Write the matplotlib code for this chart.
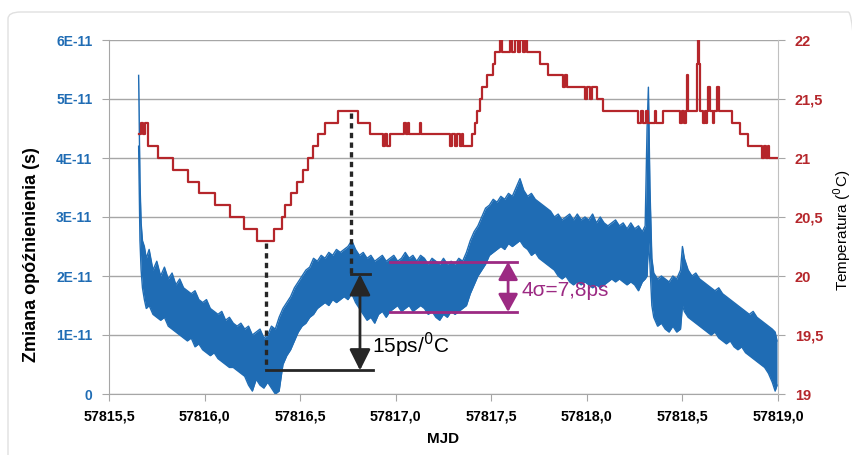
import matplotlib.pyplot as plt
import numpy as np
from matplotlib.patches import FancyBboxPatch

# delay band (upper / lower edge of the noisy trace), units of 1E-11 s
mjd = [57815.655, 57815.662, 57815.668, 57815.675, 57815.685, 57815.695, 57815.71, 57815.73,
       57815.75, 57815.77, 57815.79, 57815.81, 57815.83, 57815.85, 57815.87, 57815.89,
       57815.91, 57815.93, 57815.95, 57815.97, 57815.99, 57816.01, 57816.03, 57816.05,
       57816.07, 57816.09, 57816.11, 57816.13, 57816.15, 57816.17, 57816.19, 57816.21,
       57816.23, 57816.25, 57816.27, 57816.29, 57816.31, 57816.33, 57816.35, 57816.37,
       57816.39, 57816.41, 57816.43, 57816.45, 57816.47, 57816.49, 57816.51, 57816.53,
       57816.55, 57816.57, 57816.59, 57816.61, 57816.63, 57816.65, 57816.67, 57816.69,
       57816.71, 57816.73, 57816.75, 57816.77, 57816.79, 57816.81, 57816.83, 57816.85,
       57816.87, 57816.89, 57816.91, 57816.93, 57816.95, 57816.97, 57816.99, 57817.01,
       57817.03, 57817.05, 57817.07, 57817.09, 57817.11, 57817.13, 57817.15, 57817.17,
       57817.19, 57817.21, 57817.23, 57817.25, 57817.27, 57817.29, 57817.31, 57817.33,
       57817.35, 57817.37, 57817.39, 57817.41, 57817.43, 57817.45, 57817.47, 57817.49,
       57817.51, 57817.53, 57817.55, 57817.57, 57817.59, 57817.61, 57817.63, 57817.65,
       57817.67, 57817.69, 57817.71, 57817.73, 57817.75, 57817.77, 57817.79, 57817.81,
       57817.83, 57817.85, 57817.87, 57817.89, 57817.91, 57817.93, 57817.95, 57817.97,
       57817.99, 57818.01, 57818.03, 57818.05, 57818.07, 57818.09, 57818.11, 57818.13,
       57818.15, 57818.17, 57818.19, 57818.21, 57818.23, 57818.25, 57818.27, 57818.29,
       57818.305, 57818.315, 57818.322, 57818.33, 57818.34, 57818.35, 57818.37, 57818.39,
       57818.41, 57818.43, 57818.45, 57818.47, 57818.49, 57818.50, 57818.51, 57818.53,
       57818.55, 57818.57, 57818.59, 57818.61, 57818.63, 57818.65, 57818.67, 57818.69,
       57818.71, 57818.73, 57818.75, 57818.77, 57818.79, 57818.81, 57818.83, 57818.85,
       57818.87, 57818.89, 57818.91, 57818.93, 57818.95, 57818.97, 57818.985, 57818.995]
delay_hi = [5.4, 3.6, 2.9, 2.6, 2.5, 2.3, 2.45, 2.1,
            2.25, 2.0, 2.15, 1.95, 2.05, 1.85, 1.95, 1.8,
            1.75, 1.7, 1.75, 1.6, 1.55, 1.6, 1.45, 1.4,
            1.35, 1.4, 1.25, 1.3, 1.2, 1.15, 1.2, 1.1,
            1.15, 1.0, 1.05, 1.1, 0.95, 1.0, 1.15, 1.1,
            1.3, 1.45, 1.55, 1.65, 1.8, 1.9, 2.0, 2.1,
            2.15, 2.3, 2.25, 2.35, 2.3, 2.4, 2.35, 2.45,
            2.4, 2.45, 2.5, 2.6, 2.45, 2.35, 2.4, 2.3,
            2.35, 2.25, 2.3, 2.35, 2.25, 2.3, 2.35, 2.25,
            2.3, 2.4, 2.3, 2.35, 2.25, 2.35, 2.3, 2.2,
            2.3, 2.25, 2.2, 2.3, 2.2, 2.25, 2.2, 2.3,
            2.25, 2.4, 2.6, 2.75, 2.85, 3.0, 3.15, 3.2,
            3.3, 3.25, 3.35, 3.3, 3.4, 3.35, 3.5, 3.65,
            3.45, 3.35, 3.4, 3.3, 3.25, 3.2, 3.15, 3.1,
            3.0, 3.05, 2.95, 3.0, 3.05, 2.95, 3.05, 2.95,
            3.0, 2.95, 3.05, 2.9, 3.0, 2.9, 2.85, 2.9,
            2.95, 2.85, 2.9, 2.8, 2.9, 2.8, 2.85, 2.75,
            2.85, 4.5, 5.2, 3.5, 2.3, 2.05, 1.95, 2.0,
            1.95, 1.9, 2.0, 1.95, 2.1, 2.5, 2.3, 2.1,
            2.0, 2.05, 1.95, 1.9, 1.85, 1.8, 1.75, 1.8,
            1.7, 1.65, 1.6, 1.55, 1.5, 1.45, 1.4, 1.35,
            1.4, 1.3, 1.25, 1.2, 1.15, 1.1, 1.05, 0.9]
delay_lo = [4.2, 2.6, 2.1, 1.8, 1.6, 1.45, 1.5, 1.35,
            1.3, 1.25, 1.3, 1.15, 1.1, 1.05, 1.0, 0.95,
            0.9, 0.95, 0.8, 0.85, 0.75, 0.7, 0.65, 0.7,
            0.6, 0.55, 0.5, 0.45, 0.45, 0.4, 0.35, 0.3,
            0.15, 0.05, 0.25, 0.15, 0.1, 0.2, 0.1, 0.0,
            0.05, 0.5, 0.65, 0.75, 0.9, 1.05, 1.15, 1.2,
            1.3, 1.35, 1.45, 1.5, 1.55, 1.5, 1.6, 1.55,
            1.6, 1.65, 1.6, 1.7, 1.55, 1.45, 1.35, 1.25,
            1.3, 1.2, 1.35, 1.4, 1.3, 1.4, 1.45, 1.5,
            1.4, 1.45, 1.5, 1.4, 1.45, 1.5, 1.45, 1.35,
            1.4, 1.3, 1.25, 1.35, 1.3, 1.4, 1.35, 1.4,
            1.45, 1.5, 1.7, 1.85, 2.0, 2.1, 2.2, 2.35,
            2.4, 2.45, 2.5, 2.45, 2.55, 2.5, 2.55, 2.6,
            2.5, 2.45, 2.35, 2.4, 2.3, 2.25, 2.2, 2.15,
            2.1, 2.0, 1.95, 2.0, 1.9, 1.85, 1.9, 1.85,
            1.9, 1.85, 1.8, 1.85, 1.8, 1.85, 1.9, 1.95,
            1.9, 1.95, 1.9, 1.85, 1.9, 1.85, 1.75, 1.9,
            1.95, 2.0, 2.6, 2.2, 1.5, 1.3, 1.15, 1.2,
            1.1, 1.05, 1.15, 1.05, 1.1, 1.5, 1.4, 1.3,
            1.25, 1.2, 1.15, 1.1, 1.05, 1.0, 1.05, 0.95,
            0.9, 0.85, 0.9, 0.8, 0.75, 0.8, 0.7, 0.65,
            0.6, 0.55, 0.5, 0.45, 0.35, 0.2, 0.05, 0.15]

# temperature steps (MJD where the reading changes, new value in deg C)
t_mjd = [57815.657, 57815.667, 57815.678, 57815.688, 57815.704, 57815.756, 57815.835, 57815.913,
         57815.971, 57816.055, 57816.133, 57816.206, 57816.274, 57816.363, 57816.405, 57816.421,
         57816.452, 57816.484, 57816.515, 57816.541, 57816.567, 57816.594, 57816.630, 57816.698,
         57816.803, 57816.866, 57816.934, 57816.945, 57816.955, 57816.970, 57817.044, 57817.054,
         57817.065, 57817.070, 57817.127, 57817.133, 57817.284, 57817.295, 57817.311, 57817.321,
         57817.337, 57817.347, 57817.352, 57817.400, 57817.415, 57817.426, 57817.441, 57817.452,
         57817.478, 57817.509, 57817.520, 57817.546, 57817.557, 57817.598, 57817.609, 57817.625,
         57817.640, 57817.651, 57817.666, 57817.677, 57817.687, 57817.755, 57817.797, 57817.876,
         57817.886, 57817.897, 57817.991, 57818.001, 57818.017, 57818.027, 57818.054, 57818.085,
         57818.268, 57818.284, 57818.294, 57818.310, 57818.321, 57818.357, 57818.362, 57818.399,
         57818.488, 57818.498, 57818.509, 57818.519, 57818.522, 57818.530, 57818.577, 57818.582,
         57818.587, 57818.593, 57818.608, 57818.619, 57818.624, 57818.629, 57818.634, 57818.645,
         57818.661, 57818.666, 57818.682, 57818.692, 57818.760, 57818.802, 57818.844, 57818.917,
         57818.928, 57818.938, 57818.948, 57818.954, 57819.000]
temp = [21.2, 21.3, 21.2, 21.3, 21.1, 21.0, 20.9, 20.8,
        20.7, 20.6, 20.5, 20.4, 20.3, 20.4, 20.5, 20.6,
        20.7, 20.8, 20.9, 21.0, 21.1, 21.2, 21.3, 21.4,
        21.3, 21.2, 21.1, 21.2, 21.1, 21.2, 21.3, 21.2,
        21.3, 21.2, 21.3, 21.2, 21.1, 21.2, 21.1, 21.2,
        21.1, 21.2, 21.1, 21.2, 21.3, 21.4, 21.5, 21.6,
        21.7, 21.8, 21.9, 22.0, 21.9, 22.0, 21.9, 22.0,
        21.9, 22.0, 21.9, 22.0, 21.9, 21.8, 21.7, 21.6,
        21.7, 21.6, 21.5, 21.6, 21.5, 21.6, 21.5, 21.4,
        21.3, 21.4, 21.3, 21.4, 21.3, 21.4, 21.3, 21.4,
        21.3, 21.4, 21.3, 21.4, 21.7, 21.4, 21.8, 22.0,
        21.8, 21.4, 21.3, 21.4, 21.3, 21.4, 21.6, 21.4,
        21.3, 21.4, 21.6, 21.4, 21.3, 21.2, 21.1, 21.0,
        21.1, 21.0, 21.1, 21.0, 21.0]

x_ticks = [57815.5, 57816.0, 57816.5, 57817.0, 57817.5, 57818.0, 57818.5, 57819.0]
t_ticks = [19, 19.5, 20, 20.5, 21, 21.5, 22]

blue = '#1f6cb4'
red = '#b5262b'
purple = '#9c2a83'
black = '#262626'
grid = '#a6a6a6'

plt.rcParams['font.family'] = ['Liberation Sans', 'DejaVu Sans']

fig = plt.figure(figsize=(8.53, 4.55), dpi=100)
ax = fig.add_axes([109 / 853, 1 - 394 / 455, 669 / 853, 354 / 455])
ax2 = ax.twinx()

s = 1e-11
hi = np.array(delay_hi) * s
lo = np.array(delay_lo) * s
ax.fill_between(mjd, lo, hi, color=blue, lw=0)
ax.plot(mjd, hi, color=blue, lw=1.0)
ax.plot(mjd, lo, color=blue, lw=1.0)

ax2.plot(t_mjd, temp, color=red, lw=1.6, drawstyle='steps-post')

ax.set_xlim(57815.5, 57819.0)
ax.set_ylim(0, 6e-11)
ax2.set_ylim(19, 22)
ax.set_xticks(x_ticks)
ax.set_xticklabels([f'{v:.1f}'.replace('.', ',') for v in x_ticks],
                   fontweight='bold', fontsize=10.3)
ax.set_yticks(np.arange(0, 7) * s)
ax.set_yticklabels(['0'] + [f'{i}E-11' for i in range(1, 7)],
                   fontweight='bold', fontsize=10)
ax2.set_yticks(t_ticks)
ax2.set_yticklabels([f'{v:g}'.replace('.', ',') for v in t_ticks],
                    fontweight='bold', fontsize=10.5)

ax.yaxis.grid(True, color=grid, lw=1)
ax.set_axisbelow(True)
for sp in ['top', 'right']:
    ax.spines[sp].set_visible(False)
for sp in ['top', 'left', 'bottom']:
    ax2.spines[sp].set_visible(False)
ax.spines['left'].set_color(grid)
ax.spines['bottom'].set_color(grid)
ax2.spines['right'].set_color('#c0c0c0')

ax.tick_params(axis='y', length=5, color=grid, labelcolor=blue, pad=7)
ax.tick_params(axis='x', length=5, color=grid, labelcolor='black', pad=6)
ax2.tick_params(axis='y', length=5, color=grid, labelcolor=red, pad=7)

ax.set_xlabel('MJD', fontsize=11, fontweight='bold', labelpad=6)
ax.set_ylabel('Zmiana opóźnienienia (s)', fontsize=13, fontweight='bold',
              va='center', ha='center')
ax.yaxis.set_label_coords((32 - 109) / 669, (394 - 255) / 354)
ax2.set_ylabel('Temperatura ($^{0}$C)', fontsize=11, va='center', ha='center',
               rotation=90)
ax2.yaxis.set_label_coords((842 - 109) / 669, (394 - 230) / 354)


def t2d(t):
    return (t - 19) / 3 * 6e-11


# annotations (drawn on the top axes, in delay coordinates)
tr = ax.transData
ax2.plot([57816.322, 57816.322], [t2d(20.28), 0.42 * s], transform=tr,
         color=black, lw=2.4, ls=(0, (1.6, 1.3)))
ax2.plot([57816.766, 57816.766], [t2d(21.38), 2.05 * s], transform=tr,
         color=black, lw=2.4, ls=(0, (1.6, 1.3)))
ax2.plot([57816.322, 57816.881], [0.4 * s, 0.4 * s], transform=tr, color=black, lw=2)
ax2.plot([57816.766, 57816.865], [2.03 * s, 2.03 * s], transform=tr, color=black, lw=2)
ax2.annotate('', xy=(57816.813, 2.03 * s), xytext=(57816.813, 0.4 * s),
             xycoords=tr, textcoords=tr,
             arrowprops=dict(arrowstyle='<|-|>,head_length=0.4,head_width=0.2',
                             color=black, lw=2, mutation_scale=32, shrinkA=0, shrinkB=0))
ax2.text(57816.876, 0.83 * s, '15ps/$^{0}$C', transform=tr, fontsize=15,
         color='black', va='center', ha='left')

ax2.plot([57816.970, 57817.635], [2.24 * s, 2.24 * s], transform=tr, color=purple, lw=2)
ax2.plot([57816.970, 57817.635], [1.39 * s, 1.39 * s], transform=tr, color=purple, lw=2)
ax2.annotate('', xy=(57817.588, 2.24 * s), xytext=(57817.588, 1.39 * s),
             xycoords=tr, textcoords=tr,
             arrowprops=dict(arrowstyle='<|-|>,head_length=0.4,head_width=0.22',
                             color=purple, lw=2, mutation_scale=27, shrinkA=0, shrinkB=0))
ax2.text(57817.66, 1.76 * s, '4σ=7,8ps', transform=tr, fontsize=15,
         color=purple, va='center', ha='left')

ax2.set_ylim(19, 22)
ax.set_xlim(57815.5, 57819.0)

# chart area frame
frame = FancyBboxPatch((8 / 853, -0.1), 1.0, 1 - 12 / 455 + 0.1,
                       boxstyle='round,pad=0,rounding_size=0.015',
                       transform=fig.transFigure, fill=False, ec='#e0e0e0', lw=1)
fig.patches.append(frame)

fig.savefig('out.png', dpi=100)
